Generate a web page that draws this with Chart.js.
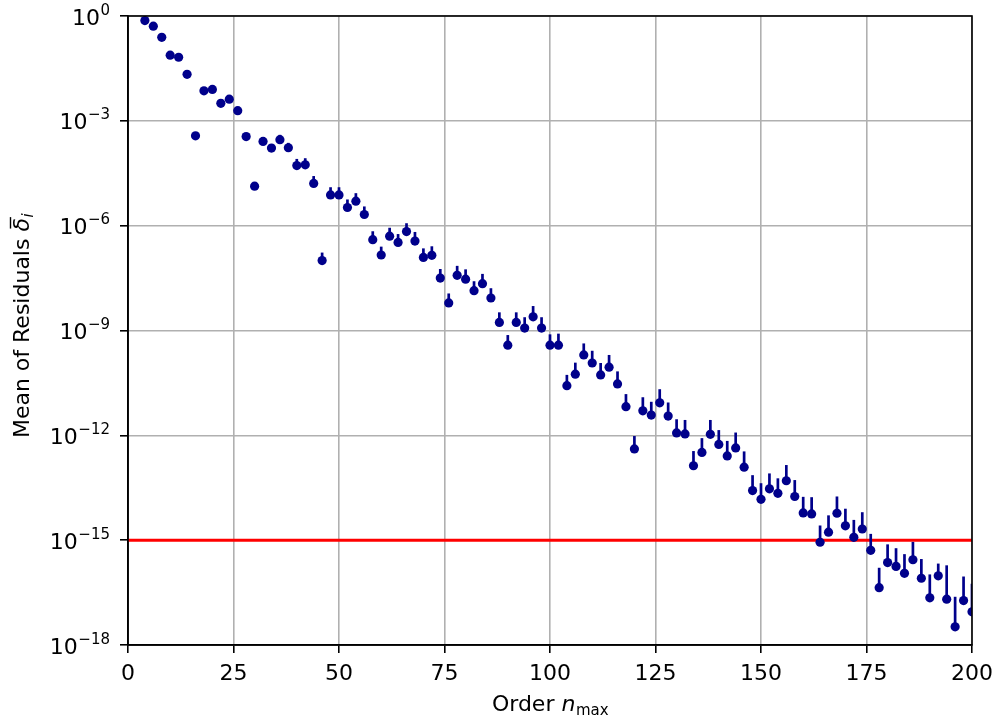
<!DOCTYPE html>
<html>
<head>
<meta charset="utf-8">
<script src="https://cdn.jsdelivr.net/npm/chart.js"></script>
<style>
    html, body { margin: 0; padding: 0; background: #fff; }
    #wrap { width: 998px; height: 723px; }
</style>
</head>
<body>
<div id="wrap"><canvas id="residualChart" width="998" height="723"></canvas></div>
<script>
// Data
const orders = [
    4, 6, 8, 10, 12, 14, 16, 18, 20, 22, 24, 26, 28, 30, 32, 34, 36, 38, 40, 42,
    44, 46, 48, 50, 52, 54, 56, 58, 60, 62, 64, 66, 68, 70, 72, 74, 76, 78, 80, 82,
    84, 86, 88, 90, 92, 94, 96, 98, 100, 102, 104, 106, 108, 110, 112, 114, 116, 118, 120, 122,
    124, 126, 128, 130, 132, 134, 136, 138, 140, 142, 144, 146, 148, 150, 152, 154, 156, 158, 160, 162,
    164, 166, 168, 170, 172, 174, 176, 178, 180, 182, 184, 186, 188, 190, 192, 194, 196, 198, 200,
]
// log10 of the mean residual
const meanLog10 = [
    -0.13, -0.29, -0.61, -1.12, -1.18, -1.67, -3.43, -2.14, -2.10, -2.50, -2.38, -2.71, -3.45, -4.87, -3.59, -3.78, -3.54, -3.77, -4.28, -4.26,
    -4.79, -7.00, -5.12, -5.12, -5.48, -5.30, -5.68, -6.40, -6.84, -6.30, -6.48, -6.17, -6.44, -6.91, -6.85, -7.50, -8.21, -7.42, -7.53, -7.86,
    -7.66, -8.07, -8.77, -9.42, -8.77, -8.93, -8.61, -8.93, -9.42, -9.42, -10.58, -10.25, -9.70, -9.93, -10.27, -10.05, -10.53, -11.18, -12.39, -11.30,
    -11.42, -11.07, -11.45, -11.93, -11.96, -12.87, -12.49, -11.97, -12.26, -12.59, -12.36, -12.91, -13.58, -13.83, -13.53, -13.66, -13.30, -13.75, -14.22, -14.25,
    -15.06, -14.77, -14.23, -14.59, -14.92, -14.68, -15.29, -16.36, -15.64, -15.75, -15.95, -15.56, -16.09, -16.65, -16.02, -16.69, -17.48, -16.73, -17.05,
]
// upper error bar length, in decades above the mean
const errUpLog10 = [
    0.03, 0.03, 0.03, 0.03, 0.04, 0.04, 0.06, 0.06, 0.06, 0.07, 0.07, 0.09, 0.09, 0.09, 0.10, 0.11, 0.14, 0.14, 0.19, 0.19,
    0.21, 0.23, 0.22, 0.22, 0.23, 0.23, 0.23, 0.24, 0.24, 0.24, 0.24, 0.24, 0.26, 0.26, 0.26, 0.26, 0.27, 0.27, 0.28, 0.27,
    0.28, 0.28, 0.29, 0.29, 0.29, 0.31, 0.31, 0.31, 0.31, 0.33, 0.31, 0.33, 0.33, 0.35, 0.34, 0.35, 0.36, 0.36, 0.37, 0.39,
    0.38, 0.39, 0.39, 0.39, 0.40, 0.42, 0.41, 0.41, 0.41, 0.43, 0.44, 0.45, 0.44, 0.46, 0.44, 0.43, 0.45, 0.47, 0.46, 0.48,
    0.48, 0.48, 0.48, 0.49, 0.50, 0.48, 0.47, 0.57, 0.52, 0.52, 0.55, 0.51, 0.55, 0.67, 0.35, 0.97, 0.86, 0.69, 0.80,
]
const threshold = 1e-15
const yTickExps = [0, -3, -6, -9, -12, -15, -18]
const xTicks = [0, 25, 50, 75, 100, 125, 150, 175, 200]

const FONT = "'DejaVu Sans', sans-serif"
const NAVY = "#00008b"

const points = orders.map((n, i) => ({ x: n, y: Math.pow(10, meanLog10[i]) }))

// upward error bars, drawn just before the scatter markers
const errorBars = {
    id: "errorBars",
    beforeDatasetDraw(chart, args) {
        if (args.index !== 1) return
        const { ctx, chartArea, scales } = chart
        ctx.save()
        ctx.beginPath()
        ctx.rect(chartArea.left, chartArea.top, chartArea.right - chartArea.left, chartArea.bottom - chartArea.top)
        ctx.clip()
        ctx.strokeStyle = NAVY
        ctx.lineWidth = 2.7
        orders.forEach((n, i) => {
            const x = scales.x.getPixelForValue(n)
            const y0 = scales.y.getPixelForValue(Math.pow(10, meanLog10[i]))
            const y1 = scales.y.getPixelForValue(Math.pow(10, meanLog10[i] + errUpLog10[i]))
            ctx.beginPath()
            ctx.moveTo(x, y0)
            ctx.lineTo(x, y1)
            ctx.stroke()
        })
        ctx.restore()
    },
}

// frame, y tick labels with superscripts, axis titles with math parts
const decorations = {
    id: "decorations",
    afterDraw(chart) {
        const { ctx, chartArea, scales } = chart
        ctx.save()
        ctx.strokeStyle = "#000"
        ctx.lineWidth = 1.6
        ctx.strokeRect(chartArea.left, chartArea.top, chartArea.right - chartArea.left, chartArea.bottom - chartArea.top)

        ctx.fillStyle = "#000"
        ctx.textBaseline = "alphabetic"
        const right = 110
        yTickExps.forEach((e) => {
            const y = scales.y.getPixelForValue(Math.pow(10, e))
            const sup = e === 0 ? "0" : "\u2212" + Math.abs(e)
            ctx.font = "15px " + FONT
            const wSup = ctx.measureText(sup).width
            ctx.textAlign = "left"
            ctx.fillText(sup, right - wSup, y - 1.5)
            ctx.font = "22px " + FONT
            const wBase = ctx.measureText("10").width
            ctx.fillText("10", right - wSup - wBase - 0.5, y + 8.5)
        })

        // x title: Order n_max
        const cx = (chartArea.left + chartArea.right) / 2
        const by = 711
        ctx.font = "22px " + FONT
        const w1 = ctx.measureText("Order ").width
        ctx.font = "oblique 22px " + FONT
        const w2 = ctx.measureText("n").width
        ctx.font = "15px " + FONT
        const w3 = ctx.measureText("max").width
        let x0 = cx - (w1 + w2 + w3) / 2
        ctx.textAlign = "left"
        ctx.font = "22px " + FONT
        ctx.fillText("Order ", x0, by)
        ctx.font = "oblique 22px " + FONT
        ctx.fillText("n", x0 + w1, by)
        ctx.font = "15px " + FONT
        ctx.fillText("max", x0 + w1 + w2 + 0.5, by + 3.5)

        // y title: Mean of Residuals \bar{delta}_i
        ctx.translate(29, 326)
        ctx.rotate(-Math.PI / 2)
        ctx.font = "22px " + FONT
        const v1 = ctx.measureText("Mean of Residuals ").width
        ctx.font = "oblique 22px " + FONT
        const v2 = ctx.measureText("\u03b4").width
        ctx.font = "oblique 15px " + FONT
        const v3 = ctx.measureText("i").width
        x0 = -(v1 + v2 + v3) / 2
        ctx.font = "22px " + FONT
        ctx.fillText("Mean of Residuals ", x0, 0)
        ctx.font = "oblique 22px " + FONT
        ctx.fillText("\u03b4", x0 + v1, 0)
        ctx.lineWidth = 1.4
        ctx.beginPath()
        ctx.moveTo(x0 + v1 + 3, -18.5)
        ctx.lineTo(x0 + v1 + v2 + 1, -18.5)
        ctx.stroke()
        ctx.font = "oblique 15px " + FONT
        ctx.fillText("i", x0 + v1 + v2 + 0.5, 3.5)
        ctx.restore()
    },
}

const residualChart = new Chart(document.getElementById("residualChart"), {
    type: "scatter",
    data: {
        datasets: [
            {
                type: "line",
                data: [
                    { x: 0, y: threshold },
                    { x: 200, y: threshold },
                ],
                borderColor: "#ff0000",
                borderWidth: 3,
                pointRadius: 0,
                order: 2,
            },
            {
                data: points,
                backgroundColor: NAVY,
                borderColor: NAVY,
                borderWidth: 0,
                pointRadius: 4.6,
                clip: 0,
                order: 1,
            },
        ],
    },
    options: {
        responsive: false,
        animation: false,
        events: [],
        layout: { padding: { top: 16, right: 26, left: 0, bottom: 0 } },
        plugins: {
            legend: { display: false },
            tooltip: { enabled: false },
        },
        scales: {
            x: {
                type: "linear",
                min: 0,
                max: 200,
                afterBuildTicks: (s) => {
                    s.ticks = xTicks.map((v) => ({ value: v }))
                },
                ticks: {
                    color: "#000",
                    font: { family: FONT, size: 22 },
                    padding: 8,
                    maxRotation: 0,
                },
                grid: { color: "#b0b0b0", lineWidth: 1.6, tickColor: "#000", tickLength: 8, tickWidth: 1.6 },
                border: { color: "#000", width: 1.6 },
                afterFit: (s) => {
                    s.height = 78
                    s.paddingLeft = 0
                    s.paddingRight = 0
                },
            },
            y: {
                type: "logarithmic",
                min: 1e-18,
                max: 1,
                afterBuildTicks: (s) => {
                    s.ticks = yTickExps.map((e) => ({ value: Math.pow(10, e) }))
                },
                ticks: { display: false },
                grid: { color: "#b0b0b0", lineWidth: 1.6, tickColor: "#000", tickLength: 8, tickWidth: 1.6 },
                border: { color: "#000", width: 1.6 },
                afterFit: (s) => {
                    s.width = 128
                    s.paddingTop = 0
                    s.paddingBottom = 0
                },
            },
        },
    },
    plugins: [errorBars, decorations],
})
</script>
</body>
</html>
